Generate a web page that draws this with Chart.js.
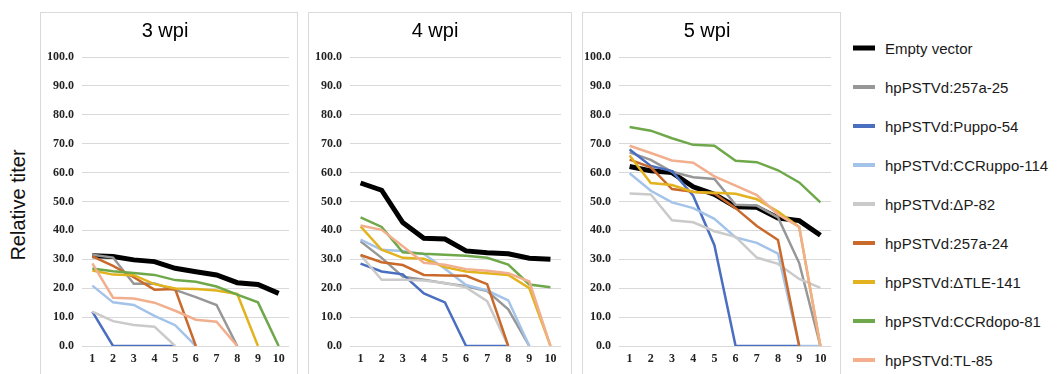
<!DOCTYPE html>
<html>
<head>
<meta charset="utf-8">
<script src="https://cdn.jsdelivr.net/npm/chart.js@4.4.1/dist/chart.umd.min.js"></script>
<style>
  body { margin: 0; background: #fff; width: 1063px; height: 374px; overflow: hidden; position: relative; font-family: "Liberation Sans", Arial, sans-serif; }
  .panel { position: absolute; top: 12px; height: 364px; border: 1px solid #d9d9d9; box-sizing: border-box; }
  #ytitle { position: absolute; left: 18px; top: 205px; transform: translate(-50%, -50%) rotate(-90deg); font-size: 20px; white-space: nowrap; color: #111; }
  .leg { position: absolute; left: 853px; height: 20px; font-size: 15px; color: #1a1a1a; white-space: nowrap; }
  .leg span.sw { position: absolute; left: 0; width: 22px; top: 50%; transform: translateY(-50%); }
  .leg span.tx { position: absolute; left: 32px; top: 50%; transform: translateY(-50%); }
</style>
</head>
<body>
<div id="ytitle">Relative titer</div>
<div class="panel" id="p1" style="left:40px;width:258px"><canvas id="c1"></canvas></div>
<div class="panel" id="p2" style="left:308px;width:264px"><canvas id="c2"></canvas></div>
<div class="panel" id="p3" style="left:582px;width:259px"><canvas id="c3"></canvas></div>
<div id="legenda"></div>
<script>
// ------------ Dados ------------ //

var posicoes = ['1', '2', '3', '4', '5', '6', '7', '8', '9', '10'];

var series = ['Empty vector', 'hpPSTVd:257a-25', 'hpPSTVd:Puppo-54', 'hpPSTVd:CCRuppo-114',
    'hpPSTVd:\u0394P-82', 'hpPSTVd:257a-24', 'hpPSTVd:\u0394TLE-141', 'hpPSTVd:CCRdopo-81', 'hpPSTVd:TL-85'];

var cores = ['#000000', '#979797', '#4a6fc0', '#a4c3e8', '#cacaca', '#c96a2c', '#e2b31e', '#6fa84a', '#f1af8e'];

// uma linha por série, na mesma ordem de "series"
var titer3wpi = [
    [31.2, 31.0, 29.8, 29.2, 26.9, 25.7, 24.6, 21.9, 21.3, 18.2],
    [31.6, 30.6, 21.5, 21.6, 19.4, 16.9, 14.2, 0, null, null],
    [11.9, 0, 0, 0, 0, null, null, null, null, null],
    [20.9, 15.1, 14.2, 10.4, 7.2, 0, null, null, null, null],
    [11.9, 8.6, 7.3, 6.7, 0, null, null, null, null, null],
    [31.0, 27.7, 23.8, 19.5, 19.7, 0, null, null, null, null],
    [26.1, 24.7, 24.5, 21.4, 19.9, 19.7, 19.2, 18.0, 0, null],
    [26.8, 25.9, 25.3, 24.6, 22.8, 22.2, 20.6, 17.8, 15.1, 0],
    [28.6, 16.7, 16.4, 15.0, 12.2, 9.1, 8.4, 0, null, null]
];

var titer4wpi = [
    [56.4, 53.9, 42.7, 37.3, 37.0, 32.9, 32.3, 31.9, 30.4, 30.0],
    [36.2, 30.5, 24.0, 22.9, 21.7, 20.7, 19.0, 12.7, 0, null],
    [28.5, 25.8, 24.8, 18.2, 15.1, 0, 0, 0, null, null],
    [36.8, 33.3, 32.9, 31.8, 26.7, 21.1, 19.2, 15.8, 0, null],
    [31.5, 22.9, 22.9, 22.7, 21.8, 20.3, 15.5, 0, null, null],
    [31.5, 29.0, 28.0, 24.6, 24.4, 24.3, 21.4, 0, null, null],
    [41.4, 33.3, 30.5, 30.2, 27.3, 25.8, 25.2, 24.6, 20.0, 0],
    [44.5, 41.2, 32.4, 31.9, 31.6, 31.2, 30.5, 28.2, 21.3, 20.3],
    [41.7, 40.2, 34.5, 28.8, 28.1, 26.6, 26.0, 25.2, 22.3, 0]
];

var titer5wpi = [
    [62.1, 60.6, 60.0, 55.1, 52.5, 48.2, 48.0, 44.3, 43.4, 38.3],
    [67.0, 64.4, 60.3, 58.4, 57.8, 48.9, 48.6, 44.5, 28.7, 0],
    [68.0, 62.3, 60.5, 52.0, 34.9, 0, 0, 0, 0, null],
    [59.8, 53.7, 49.7, 47.7, 44.0, 37.6, 35.7, 32.0, 0, 0],
    [52.8, 52.4, 43.5, 42.8, 39.7, 37.8, 30.6, 28.4, 23.2, 20.1],
    [64.5, 61.8, 54.3, 53.4, 52.8, 47.7, 41.5, 36.7, 0, null],
    [65.9, 56.4, 55.7, 53.3, 53.0, 52.7, 50.8, 46.5, 41.2, 0],
    [75.8, 74.5, 71.9, 69.6, 69.3, 64.1, 63.6, 60.8, 56.6, 49.7],
    [69.3, 66.8, 64.2, 63.4, 58.7, 55.5, 52.2, 45.5, 41.2, 0]
];

// ------------ Gráficos ------------ //

var fonteEixo = { family: '"Liberation Serif", "Times New Roman", serif', size: 12, weight: 'bold' };

function criarGrafico(id, titulo, dados, larguraY, margemDir) {
    var datasets = series.map(function (nome, i) {
        return {
            label: nome,
            data: dados[i],
            borderColor: cores[i],
            backgroundColor: cores[i],
            borderWidth: i === 0 ? 5 : 2.5,
            pointRadius: 0,
            tension: 0,
            order: -i   // como no Excel: a última série fica por cima
        };
    });

    return new Chart(document.getElementById(id), {
        type: 'line',
        data: { labels: posicoes, datasets: datasets },
        options: {
            responsive: true,
            maintainAspectRatio: false,
            animation: false,
            layout: { padding: { left: 0, right: margemDir, top: 0, bottom: 0 } },
            plugins: {
                legend: { display: false },
                tooltip: { enabled: false },
                title: {
                    display: true,
                    text: titulo,
                    color: '#000',
                    font: { family: '"Liberation Sans", Arial, sans-serif', size: 20, weight: 'normal' },
                    padding: { top: 6, bottom: 14 }
                }
            },
            scales: {
                x: {
                    offset: true,
                    grid: { display: false, drawTicks: false },
                    border: { display: false },
                    ticks: { color: '#222', font: fonteEixo, padding: 6, maxRotation: 0, autoSkip: false },
                    afterFit: function (s) { s.height = 29; }
                },
                y: {
                    min: 0,
                    max: 100,
                    grid: { color: '#d9d9d9', lineWidth: 1, drawTicks: false },
                    border: { display: false },
                    ticks: {
                        stepSize: 10,
                        color: '#222',
                        font: fonteEixo,
                        padding: 8,
                        callback: function (v) { return v.toFixed(1); }
                    },
                    afterFit: function (s) { s.width = larguraY; }
                }
            }
        }
    });
}

criarGrafico('c1', '3 wpi', titer3wpi, 41, 8);
criarGrafico('c2', '4 wpi', titer4wpi, 41, 10);
criarGrafico('c3', '5 wpi', titer5wpi, 36, 9);

// ------------ Legenda ------------ //

var legenda = document.getElementById('legenda');
series.forEach(function (nome, i) {
    var linha = document.createElement('div');
    linha.className = 'leg';
    linha.style.top = (48.3 + i * 38.9 - 10) + 'px';
    var sw = document.createElement('span');
    sw.className = 'sw';
    sw.style.height = (i === 0 ? 5 : 4) + 'px';
    sw.style.background = cores[i];
    var tx = document.createElement('span');
    tx.className = 'tx';
    tx.textContent = nome;
    linha.appendChild(sw);
    linha.appendChild(tx);
    legenda.appendChild(linha);
});
</script>
</body>
</html>
